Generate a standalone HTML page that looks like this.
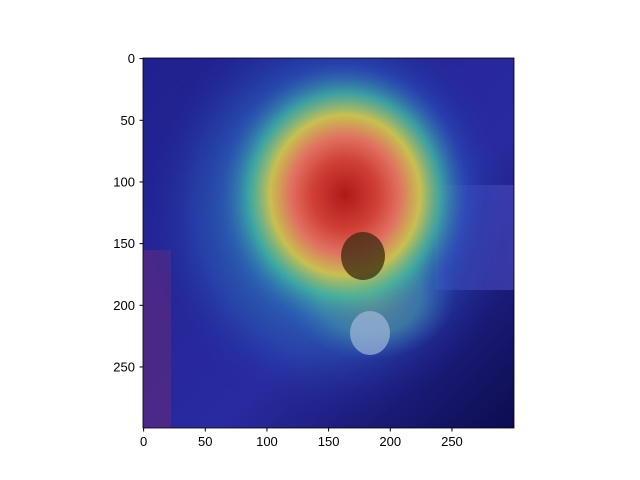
<!DOCTYPE html>
<html><head><meta charset="utf-8"><style>
html,body{margin:0;padding:0;background:#fff;}
svg{display:block;font-family:"Liberation Sans","DejaVu Sans",sans-serif;}
</style></head><body>
<svg width="640" height="480" viewBox="0 0 640 480">
<defs>
<radialGradient id="halo" cx="330" cy="210" r="1" gradientUnits="userSpaceOnUse" gradientTransform="translate(330 210) scale(190 210) translate(-330 -210)">
<stop offset="0.4" stop-color="#30a0b0" stop-opacity="0.8"/>
<stop offset="0.7" stop-color="#2858b8" stop-opacity="0.5"/>
<stop offset="1" stop-color="#1c2090" stop-opacity="0"/>
</radialGradient>
<radialGradient id="chest" cx="370" cy="295" r="1" gradientUnits="userSpaceOnUse" gradientTransform="translate(370 295) scale(85 65) translate(-370 -295)">
<stop offset="0" stop-color="#b0c060" stop-opacity="0.8"/>
<stop offset="0.6" stop-color="#50b0a0" stop-opacity="0.6"/>
<stop offset="1" stop-color="#3070c0" stop-opacity="0"/>
</radialGradient>
<radialGradient id="heat" cx="345" cy="195" r="1" gradientUnits="userSpaceOnUse" gradientTransform="translate(345 195) scale(150 160) translate(-345 -195)">
<stop offset="0" stop-color="#b01818"/>
<stop offset="0.22" stop-color="#d04036"/>
<stop offset="0.36" stop-color="#e07060"/>
<stop offset="0.5" stop-color="#c8c050"/>
<stop offset="0.64" stop-color="#40b0a0" stop-opacity="0.8"/>
<stop offset="0.82" stop-color="#2848b8" stop-opacity="0.3"/>
<stop offset="1" stop-color="#1c2090" stop-opacity="0"/>
</radialGradient>
<linearGradient id="bg" x1="0" y1="0" x2="1" y2="1">
<stop offset="0" stop-color="#20208e"/>
<stop offset="0.6" stop-color="#2a2aa0"/>
<stop offset="1" stop-color="#0c0c50"/>
</linearGradient>
<clipPath id="ax"><rect x="143" y="58" width="371" height="370"/></clipPath>
</defs>
<g id="plot" clip-path="url(#ax)">
<rect x="143" y="58" width="371" height="370" fill="url(#bg)"/>
<rect x="435" y="185" width="79" height="105" fill="#5050c8" opacity="0.55"/>
<rect x="143" y="250" width="28" height="178" fill="#5a2a80" opacity="0.7"/>
<rect x="143" y="58" width="371" height="370" fill="url(#halo)"/>
<rect x="143" y="58" width="371" height="370" fill="url(#chest)"/>
<rect x="143" y="58" width="371" height="370" fill="url(#heat)"/>
<ellipse cx="363" cy="256" rx="22" ry="24" fill="#3a2a10" opacity="0.75"/>
<ellipse cx="370" cy="333" rx="20" ry="22" fill="#a0b8d8" opacity="0.7"/>
</g>
<rect x="143" y="58" width="371" height="370" fill="none" stroke="#000" stroke-width="0.8"/>
<g id="ticks"></g>
<script>
const xTicks=[0,50,100,150,200,250];
const yTicks=[0,50,100,150,200,250];
const x0=143,y0=58,s=370/300;
const g=document.getElementById('ticks');
const NS='http://www.w3.org/2000/svg';
function px(v){return x0+(v+0.5)*s;}
function py(v){return y0+(v+0.5)*s;}
xTicks.forEach(v=>{
 const l=document.createElementNS(NS,'line');
 l.setAttribute('x1',px(v));l.setAttribute('x2',px(v));l.setAttribute('y1',428);l.setAttribute('y2',431.5);l.setAttribute('stroke','#000');
 
 
 g.appendChild(l);
 const t=document.createElementNS(NS,'text');
 t.setAttribute('x',px(v));t.setAttribute('y',446);t.setAttribute('text-anchor','middle');t.setAttribute('font-size','13');
 t.textContent=v;
 
 
 g.appendChild(t);
});
yTicks.forEach(v=>{
 const l=document.createElementNS(NS,'line');
 l.setAttribute('x1',139.5);l.setAttribute('x2',143);l.setAttribute('y1',py(v));l.setAttribute('y2',py(v));l.setAttribute('stroke','#000');
 
 
 g.appendChild(l);
 const t=document.createElementNS(NS,'text');
 t.setAttribute('x',135);t.setAttribute('y',py(v)+4.5);t.setAttribute('text-anchor','end');t.setAttribute('font-size','13');
 t.textContent=v;
 
 
 g.appendChild(t);
});
</script>
</svg>
</body></html>
